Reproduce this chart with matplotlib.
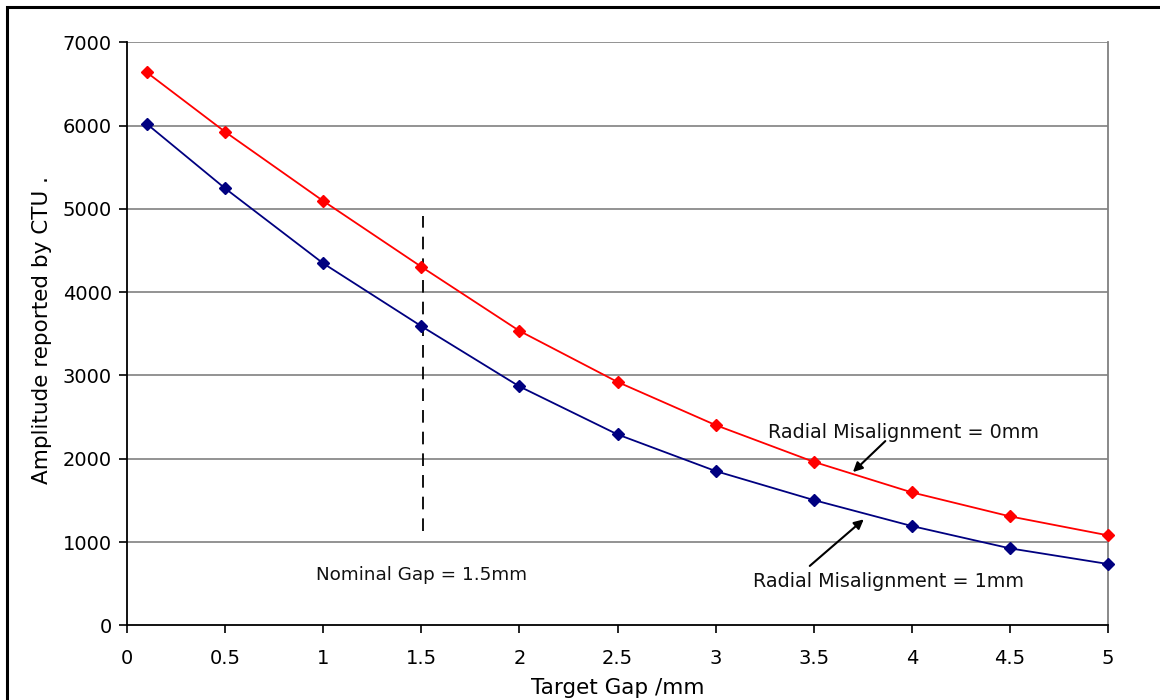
import numpy as np
import matplotlib
matplotlib.use("Agg")
from matplotlib import pyplot as plt
from matplotlib.patches import Rectangle

# target gap in mm
gap = [0.1, 0.5, 1, 1.5, 2, 2.5, 3, 3.5, 4, 4.5, 5]
# amplitude reported by CTU
amp_0mm = [6640, 5925, 5095, 4305, 3535, 2922, 2404, 1963, 1596, 1308, 1080]
amp_1mm = [6022, 5246, 4346, 3592, 2868, 2292, 1852, 1504, 1192, 924, 736]

nominal_gap = 1.51
xticks = [0, 0.5, 1, 1.5, 2, 2.5, 3, 3.5, 4, 4.5, 5]
yticks = [0, 1000, 2000, 3000, 4000, 5000, 6000, 7000]

plt.rcParams["font.family"] = ["DejaVu Sans"]

fig = plt.figure(figsize=(11.6, 7.0), dpi=100)
ax = fig.add_axes([127 / 1160, 1 - 625.3 / 700, 981 / 1160, 583 / 700])

# outer frame (runs off the right and bottom edges)
fig.patches.append(Rectangle((7 / 1160, -0.1), 1.2, 1 - 7 / 700 + 0.1,
                             transform=fig.transFigure, fill=False,
                             edgecolor="black", linewidth=2.2, clip_on=False))

for y in yticks[1:]:
    ax.axhline(y, color="#808080", linewidth=1.2, zorder=1)

ax.plot(gap, amp_0mm, color="#ff0000", linewidth=1.3, marker="D",
        markersize=6.5, zorder=3, clip_on=False)
ax.plot(gap, amp_1mm, color="#000080", linewidth=1.3, marker="D",
        markersize=6.5, zorder=3, clip_on=False)

ax.plot([nominal_gap, nominal_gap], [1130, 4920], color="black",
        linewidth=1.3, dashes=(7, 5), zorder=2)

fs = 13.8
ax.text(1.50, 604, "Nominal Gap = 1.5mm", fontsize=13.2, ha="center",
        va="center", color="#111111")
ax.text(3.96, 2320, "Radial Misalignment = 0mm", fontsize=fs, ha="center",
        va="center", color="#111111")
ax.text(3.88, 520, "Radial Misalignment = 1mm", fontsize=fs, ha="center",
        va="center", color="#111111")

arrow = dict(arrowstyle="-|>", color="black", linewidth=1.5,
             mutation_scale=14, shrinkA=0, shrinkB=0)
ax.annotate("", xy=(3.70, 1840), xytext=(3.865, 2212), arrowprops=arrow)
ax.annotate("", xy=(3.755, 1272), xytext=(3.48, 713), arrowprops=arrow)

ax.set_xlim(0, 5)
ax.set_ylim(0, 7000)
ax.set_xticks(xticks)
ax.set_xticklabels([f"{t:g}" for t in xticks])
ax.set_yticks(yticks)
ax.tick_params(axis="both", direction="out", length=6, width=1.2,
               labelsize=14, colors="black", pad=5)
ax.tick_params(axis="x", pad=11)

for side in ["left", "bottom"]:
    ax.spines[side].set_color("black")
    ax.spines[side].set_linewidth(1.3)
ax.spines["right"].set_color("#808080")
ax.spines["right"].set_linewidth(1.3)
ax.spines["top"].set_visible(False)

ax.set_xlabel("Target Gap /mm", fontsize=15.5, va="center")
ax.set_ylabel("Amplitude reported by CTU .", fontsize=15.5, va="center")
ax.xaxis.set_label_coords(0.5, (625.3 - 688) / 583)
ax.yaxis.set_label_coords((42 - 127) / 981, (625.3 - 330) / 583)

fig.savefig("out.png", dpi=100)
